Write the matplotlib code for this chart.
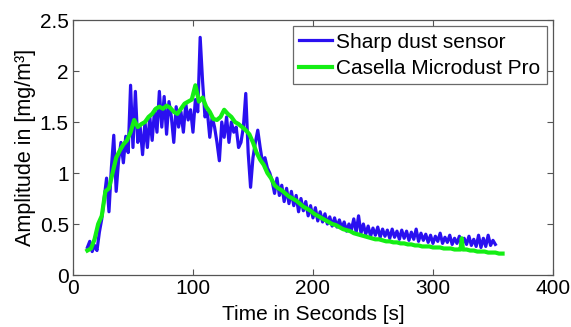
import numpy as np
import matplotlib
matplotlib.use("Agg")
import matplotlib.pyplot as plt

plt.rcParams["font.family"] = ["Liberation Sans", "DejaVu Sans"]

# Sharp dust sensor, sampled every 2 s starting at 12 s
sharp_t0 = 12
sharp_dt = 2
sharp_vals = [
    0.27, 0.33, 0.23, 0.29, 0.24, 0.42, 0.55, 0.75, 0.95, 0.62,
    1.05, 1.37, 0.82, 1.12, 1.30, 1.10, 1.36, 1.20, 1.86, 1.25,
    1.80, 1.30, 1.45, 1.18, 1.50, 1.25, 1.55, 1.32, 1.62, 1.40,
    1.80, 1.45, 1.75, 1.38, 1.70, 1.55, 1.30, 1.65, 1.45, 1.60,
    1.40, 1.68, 1.52, 1.62, 1.40, 1.72, 1.60, 2.33, 1.90, 1.55,
    1.60, 1.35, 1.55, 1.45, 1.30, 1.12, 1.50, 1.35, 1.55, 1.30,
    1.50, 1.40, 1.45, 1.25, 1.30, 1.45, 1.78, 1.20, 0.86, 1.15,
    1.30, 1.42, 1.25, 1.10, 1.15, 1.05, 1.00, 0.92, 0.80,
    0.95, 0.78, 0.88, 0.72, 0.85, 0.70, 0.82, 0.68, 0.78, 0.62,
    0.75, 0.63, 0.72, 0.58, 0.68, 0.56, 0.66, 0.53, 0.62, 0.52,
    0.60, 0.50, 0.57, 0.48, 0.56, 0.47, 0.54, 0.46, 0.52, 0.43,
    0.50, 0.44, 0.55, 0.42, 0.58, 0.41, 0.50, 0.40, 0.48, 0.38,
    0.46, 0.39, 0.47, 0.37, 0.45, 0.38, 0.44, 0.36, 0.45, 0.37,
    0.43, 0.35, 0.44, 0.36, 0.43, 0.34, 0.42, 0.35, 0.45, 0.33,
    0.41, 0.34, 0.40, 0.32, 0.39, 0.31, 0.38, 0.33, 0.41, 0.31,
    0.37, 0.32, 0.39, 0.30, 0.36, 0.31, 0.38, 0.29, 0.36, 0.30,
    0.38, 0.29, 0.35, 0.28, 0.39, 0.27, 0.36, 0.28, 0.39, 0.29,
    0.34, 0.30,
]
sharp_t = sharp_t0 + sharp_dt * np.arange(len(sharp_vals))

# Casella Microdust Pro
casella_t = [12, 15, 18, 21, 24, 27, 30, 33, 36, 39, 42, 45, 48, 51, 54, 57,
             60, 63, 66, 69, 72, 75, 78, 81, 84, 87, 90, 93, 96, 99, 102, 105,
             108, 111, 114, 117, 120, 123, 126, 129, 132, 135, 138, 141, 144,
             147, 150, 153, 156, 159, 162, 165, 168, 171, 174, 177, 180, 183,
             186, 189, 192, 195, 198, 201, 204, 207, 210, 213, 216, 219, 222,
             225, 228, 231, 234, 237, 240, 243, 246, 249, 252, 255, 258, 261,
             264, 267, 270, 273, 276, 279, 282, 285, 288, 291, 294, 297, 300,
             303, 306, 309, 312, 315, 318, 321, 323, 324, 325, 328, 331, 334,
             337, 340, 343, 346, 349, 352, 355, 358]
casella_vals = [0.24, 0.26, 0.35, 0.50, 0.58, 0.82, 0.85, 1.00, 1.15, 1.22,
                1.28, 1.32, 1.40, 1.52, 1.45, 1.48, 1.50, 1.55, 1.58, 1.63,
                1.65, 1.63, 1.66, 1.64, 1.60, 1.58, 1.63, 1.68, 1.70, 1.72,
                1.86, 1.70, 1.74, 1.65, 1.60, 1.53, 1.52, 1.55, 1.62, 1.58,
                1.55, 1.50, 1.48, 1.45, 1.42, 1.38, 1.30, 1.20, 1.13, 1.08,
                1.00, 0.95, 0.88, 0.85, 0.83, 0.80, 0.77, 0.75, 0.73, 0.70,
                0.67, 0.65, 0.63, 0.60, 0.58, 0.56, 0.54, 0.52, 0.50, 0.49,
                0.47, 0.45, 0.44, 0.43, 0.41, 0.40, 0.39, 0.38, 0.37, 0.36,
                0.35, 0.35, 0.34, 0.33, 0.33, 0.32, 0.32, 0.31, 0.31, 0.30,
                0.30, 0.29, 0.29, 0.28, 0.28, 0.28, 0.27, 0.27, 0.27, 0.26,
                0.26, 0.26, 0.25, 0.25, 0.25, 0.36, 0.25, 0.25, 0.24, 0.24,
                0.23, 0.23, 0.23, 0.22, 0.22, 0.22, 0.21, 0.21]

xticks = [0, 100, 200, 300, 400]
yticks = [0, 0.5, 1, 1.5, 2, 2.5]
ytick_labels = ["0", "0.5", "1", "1.5", "2", "2.5"]

fig = plt.figure(figsize=(5.71, 3.27), dpi=100)
ax = fig.add_axes([0.1278, 0.159, 0.8406, 0.7798])

ax.plot(sharp_t, sharp_vals, color="#2a10f0", lw=2.3, label="Sharp dust sensor")
ax.plot(casella_t, casella_vals, color="#14ee14", lw=3.0, label="Casella Microdust Pro")

ax.set_xlim(0, 400)
ax.set_ylim(0, 2.5)
ax.set_xticks(xticks)
ax.set_yticks(yticks)
ax.set_yticklabels(ytick_labels)
ax.tick_params(direction="in", length=4, width=0.8, color="#555555",
               top=True, right=True, labelsize=15, pad=3)
for s in ax.spines.values():
    s.set_color("#555555")
    s.set_linewidth(0.9)

ax.set_xlabel("Time in Seconds [s]", fontsize=15, labelpad=5)
ax.set_ylabel("Amplitude in [mg/m³]", fontsize=15.5, labelpad=3)

leg = ax.legend(loc="upper right", fontsize=15, frameon=True, fancybox=False,
                edgecolor="#444444", handlelength=1.6, handletextpad=0.2,
                borderpad=0.3, labelspacing=0.35, borderaxespad=0.3)
leg.get_frame().set_linewidth(0.9)

fig.savefig("out.png", dpi=100)
